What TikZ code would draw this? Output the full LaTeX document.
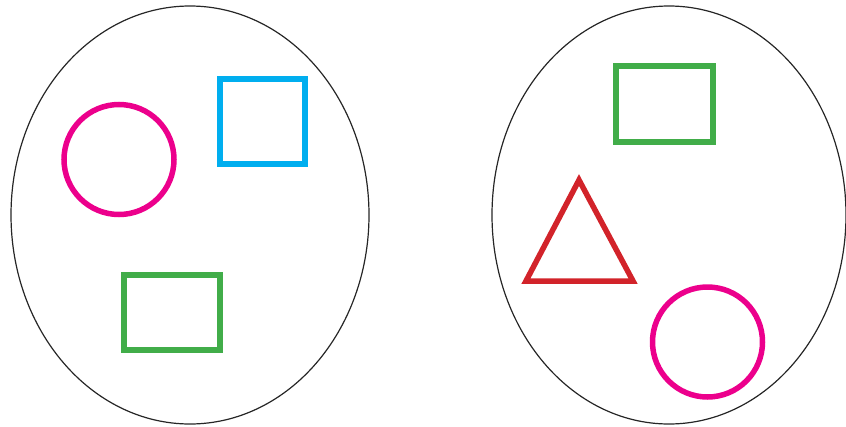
\documentclass[tikz,border=0pt]{standalone}
\usepackage{xcolor}
\usetikzlibrary{calc}
\definecolor{setmagenta}{RGB}{236,0,140}
\definecolor{setcyan}{RGB}{0,174,239}
\definecolor{setgreen}{RGB}{65,173,73}
\definecolor{setred}{RGB}{210,35,42}
\tikzset{
  setline/.style={draw=black!85, line width=1.2pt},
  shapeline/.style={draw=#1, line width=5.5pt, miter limit=10}
}
\begin{document}
\begin{tikzpicture}[x=1pt,y=-1pt]
\useasboundingbox (0,0) rectangle (846,426);
% the two sets
\draw[setline] (190,215) ellipse [x radius=179, y radius=209];
\draw[setline] (669,215) ellipse [x radius=177, y radius=209];
% left set
\draw[shapeline=setmagenta] (119,159.5) circle [radius=55];
\draw[shapeline=setcyan] (220,79) rectangle (305,164);
\draw[shapeline=setgreen] (124,275) rectangle (220,350);
% right set
\draw[shapeline=setgreen] (616,66) rectangle (713,142);
\draw[shapeline=setred] (579,180) -- (633,281) -- (526,281) -- cycle;
\draw[shapeline=setmagenta] (707.5,342) circle [radius=55];
\end{tikzpicture}
\end{document}
